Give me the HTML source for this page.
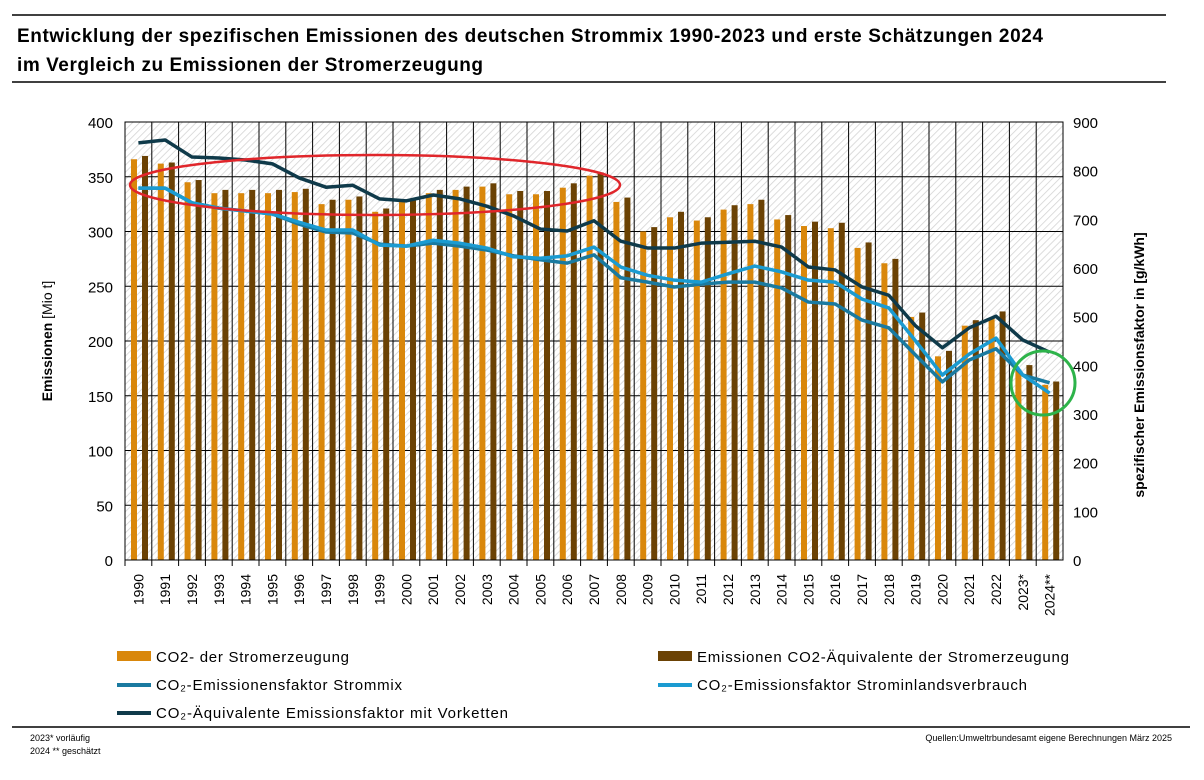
<!DOCTYPE html>
<html><head><meta charset="utf-8"><style>
body{margin:0;background:#fff;font-family:"Liberation Sans",sans-serif;}
svg text{font-family:"Liberation Sans",sans-serif;}
</style></head><body>
<svg id="c" width="1204" height="775" xmlns="http://www.w3.org/2000/svg">
<defs><pattern id="hatch" patternUnits="userSpaceOnUse" width="5" height="5" patternTransform="rotate(45)"><rect width="5" height="5" fill="#fff"/><line x1="0" y1="0" x2="0" y2="5" stroke="#d4d4d4" stroke-width="1.6"/></pattern></defs>
<line x1="12" y1="15" x2="1166" y2="15" stroke="#000" stroke-width="1.5"/>
<text x="17" y="42" font-size="19" font-weight="bold" textLength="1026">Entwicklung der spezifischen Emissionen des deutschen Strommix 1990-2023 und erste Schätzungen 2024</text>
<text x="17" y="71" font-size="19" font-weight="bold" textLength="466">im Vergleich zu Emissionen der Stromerzeugung</text>
<line x1="12" y1="82" x2="1166" y2="82" stroke="#000" stroke-width="1.5"/>
<rect x="125" y="122" width="938" height="438" fill="url(#hatch)"/>
<g id="grid"></g><g id="bars"></g><g id="lines"></g><g id="axes"></g>
<ellipse cx="375" cy="185" rx="245" ry="30" fill="none" stroke="#e0262b" stroke-width="2.5"/>
<circle cx="1043" cy="383" r="32" fill="none" stroke="#2db34a" stroke-width="3"/>
<text transform="translate(52,341) rotate(-90)" text-anchor="middle" font-size="14"><tspan font-weight="bold">Emissionen</tspan>  [Mio t]</text>
<text transform="translate(1144,365) rotate(-90)" text-anchor="middle" font-size="14" font-weight="bold">spezifischer Emissionsfaktor  in  [g/kWh]</text>
<g font-size="15">
<rect x="117" y="651" width="34" height="10" fill="#d9870b"/>
<text x="156" y="662" textLength="193">CO2- der Stromerzeugung</text>
<rect x="658" y="651" width="34" height="10" fill="#6b4204"/>
<text x="697" y="662" textLength="372">Emissionen CO2-Äquivalente der Stromerzeugung</text>
<line x1="117" y1="685" x2="151" y2="685" stroke="#1a7aa0" stroke-width="4"/>
<text x="156" y="690" textLength="246">CO₂-Emissionensfaktor Strommix</text>
<line x1="658" y1="685" x2="692" y2="685" stroke="#1b9bd1" stroke-width="4"/>
<text x="697" y="690" textLength="330">CO₂-Emissionsfaktor Strominlandsverbrauch</text>
<line x1="117" y1="713" x2="151" y2="713" stroke="#0f3a4a" stroke-width="4"/>
<text x="156" y="718" textLength="352">CO₂-Äquivalente Emissionsfaktor mit Vorketten</text>
</g>
<line x1="12" y1="727" x2="1190" y2="727" stroke="#000" stroke-width="1.5"/>
<text x="30" y="741" font-size="9">2023* vorläufig</text>
<text x="30" y="754" font-size="9">2024 ** geschätzt</text>
<text x="1172" y="741" font-size="9" text-anchor="end">Quellen:Umweltrbundesamt  eigene Berechnungen März 2025</text>
</svg>
<script>
const years=["1990","1991","1992","1993","1994","1995","1996","1997","1998","1999","2000","2001","2002","2003","2004","2005","2006","2007","2008","2009","2010","2011","2012","2013","2014","2015","2016","2017","2018","2019","2020","2021","2022","2023*","2024**"];
const co2=[366,362,345,335,335,335,336,325,329,318,327,335,338,341,334,334,340,351,327,300,313,310,320,325,311,305,303,285,271,222,186,214,221,174,160];
const co2eq=[369,363,347,338,338,338,339,329,332,321,330,338,341,344,337,337,344,354,331,304,318,313,324,329,315,309,308,290,275,226,191,219,227,178,163];
const vorketten=[857,863,828,826,822,814,785,766,770,742,738,750,742,727,707,680,676,697,655,641,641,651,653,655,643,602,596,561,544,481,436,477,501,452,427];
const inland=[764,764,734,723,717,711,694,678,678,647,645,657,651,641,623,620,625,643,602,585,575,571,588,604,592,575,571,536,518,450,380,423,456,380,343];
const strommix=[764,764,734,723,717,711,690,674,672,649,645,651,645,637,625,617,610,627,580,571,561,567,571,571,559,530,526,493,477,421,366,411,434,380,364];
const leftTicks=[0,50,100,150,200,250,300,350,400];
const rightTicks=[0,100,200,300,400,500,600,700,800,900];
const NS="http://www.w3.org/2000/svg";
const X0=125,X1=1063,Y0=560,Y1=122,cw=(X1-X0)/years.length;
const yL=v=>Y0-(v/400)*(Y0-Y1), yR=v=>Y0-(v/900)*(Y0-Y1), xc=i=>X0+i*cw;
function mk(tag,attrs,parent){const e=document.createElementNS(NS,tag);for(const k in attrs)e.setAttribute(k,attrs[k]);document.getElementById(parent).appendChild(e);return e;}
leftTicks.forEach(t=>{const l=mk('line',{x1:X0,x2:X1,y1:yL(t),y2:yL(t),stroke:'#000','stroke-width':1},'grid');


const tx=mk('text',{x:X0-12,y:yL(t)+6,'text-anchor':'end','font-size':15},'axes');tx.textContent=t;

});
rightTicks.forEach(t=>{const tx=mk('text',{x:X1+10,y:yR(t)+6,'font-size':15},'axes');tx.textContent=t;

});
years.forEach((y,i)=>{const l=mk('line',{x1:xc(i),x2:xc(i),y1:Y1,y2:Y0+6,stroke:'#000','stroke-width':1},'grid');


const b1=mk('rect',{x:xc(i)+6,y:yL(co2[i]),width:6,height:Y0-yL(co2[i]),fill:'#d9870b'},'bars');


const b2=mk('rect',{x:xc(i)+17,y:yL(co2eq[i]),width:6,height:Y0-yL(co2eq[i]),fill:'#6b4204'},'bars');


const tx=mk('text',{transform:`translate(${xc(i)+cw/2+5},574) rotate(-90)`,'text-anchor':'end','font-size':14},'axes');tx.textContent=y;

});
mk('line',{x1:X1,x2:X1,y1:Y1,y2:Y0,stroke:'#000'},'grid');
mk('rect',{x:X0,y:Y1,width:X1-X0,height:Y0-Y1,fill:'none',stroke:'#000'},'axes');
[[strommix,'#1a7aa0','line-strommix'],[inland,'#1b9bd1','line-inland'],[vorketten,'#0f3a4a','line-vorketten']].forEach(([d,c,n])=>{
const p=mk('polyline',{points:d.map((v,i)=>`${xc(i)+cw/2},${yR(v)}`).join(' '),fill:'none',stroke:c,'stroke-width':3.5,'stroke-linejoin':'round'},'lines');

});
</script>
</body></html>
